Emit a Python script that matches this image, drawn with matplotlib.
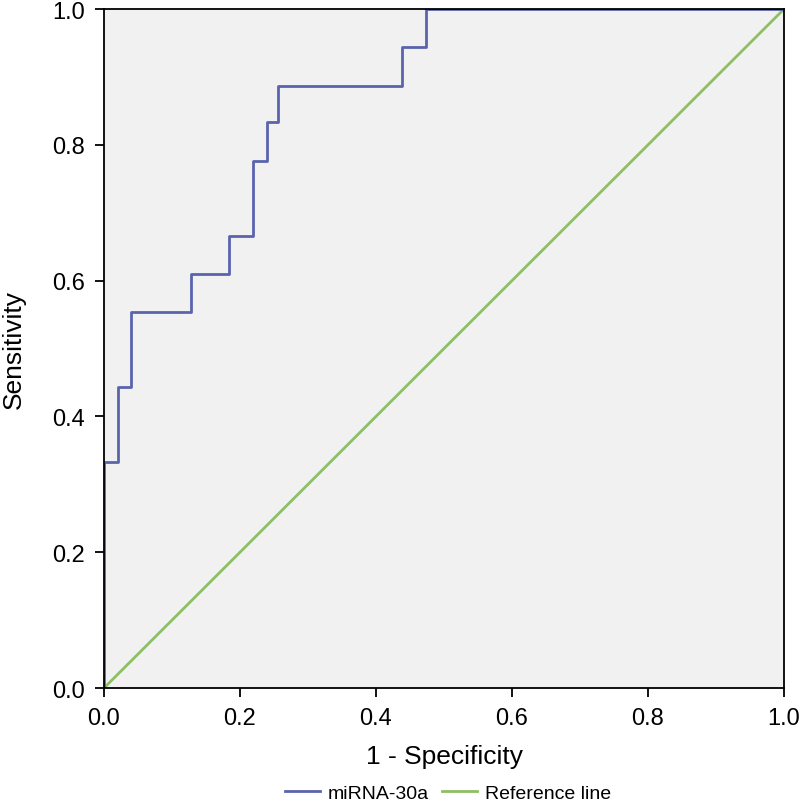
import matplotlib
matplotlib.use("Agg")
import matplotlib.pyplot as plt

# ROC step points
fpr = [0.0, 0.0, 0.0206, 0.0206, 0.0397, 0.0397, 0.128, 0.128, 0.184, 0.184,
       0.219, 0.219, 0.240, 0.240, 0.256, 0.256, 0.438, 0.438, 0.474, 0.474, 1.0]
tpr = [0.0, 0.333, 0.333, 0.443, 0.443, 0.554, 0.554, 0.610, 0.610, 0.666,
       0.666, 0.776, 0.776, 0.834, 0.834, 0.887, 0.887, 0.944, 0.944, 1.0, 1.0]
ref_x = [0.0, 1.0]
ref_y = [0.0, 1.0]
ticks = [0.0, 0.2, 0.4, 0.6, 0.8, 1.0]

plt.rcParams["font.family"] = ["Liberation Sans", "DejaVu Sans"]

fig = plt.figure(figsize=(8, 8.04), dpi=100)
ax = fig.add_axes([0.13, 0.143, 0.85, 0.8445])
ax.set_facecolor("#f1f1f1")

ax.plot(fpr, tpr, color="#5a64ac", lw=2, label="miRNA-30a", zorder=2)
ax.plot(ref_x, ref_y, color="#8cc063", lw=2, label="Reference line", zorder=1.5)

ax.set_xlim(0, 1)
ax.set_ylim(0, 1)
ax.set_xticks(ticks)
ax.set_yticks(ticks)
ax.set_xticklabels([f"{t:.1f}" for t in ticks])
ax.set_yticklabels([f"{t:.1f}" for t in ticks])
ax.tick_params(direction="out", length=6.5, width=1.3, labelsize=17, pad=7)
for s in ax.spines.values():
    s.set_linewidth(1.3)
    s.set_zorder(3)

ax.set_xlabel("1 - Specificity", fontsize=19, va="center")
ax.xaxis.set_label_coords(0.5, (689 - 757) / 679)
ax.set_ylabel("Sensitivity", fontsize=19, va="center")
ax.yaxis.set_label_coords((14 - 104) / 680, 0.5)

fig.legend(loc="center", bbox_to_anchor=(0.56, 0.012), ncol=2,
           frameon=False, fontsize=14, handlelength=1.8, handletextpad=0.4,
           columnspacing=0.7)

fig.savefig("out.png", dpi=100)
